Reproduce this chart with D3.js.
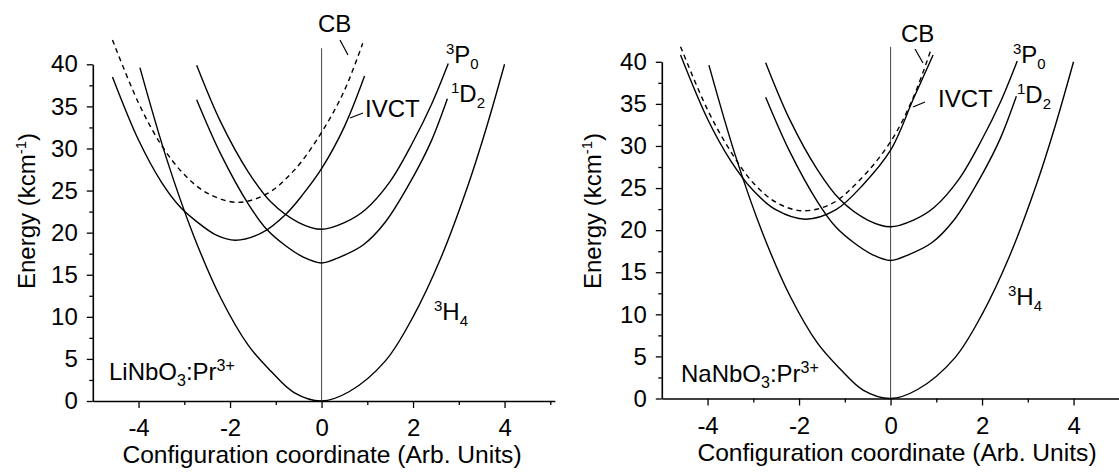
<!DOCTYPE html>
<html>
<head>
<meta charset="utf-8">
<script src="https://cdn.jsdelivr.net/npm/d3@7"></script>
<style>
  body { margin: 0; background: #fff; }
  text { font-family: "Liberation Sans", Arial, sans-serif; }
</style>
</head>
<body>
<div id="chart"></div>
<script>
// tick values
let xTicks = [-4, -3, -2, -1, 0, 1, 2, 3, 4, 5]
let yTicks = [0, 2.5, 5, 7.5, 10, 12.5, 15, 17.5, 20, 22.5, 25, 27.5, 30, 32.5, 35, 37.5, 40]

// 3H4 ground state (same in both panels)
let h4X = [-3.97, -3.4, -2.8, -2.2, -1.6, -1.1, -0.6, 0, 0.6, 1.4, 2.0, 2.6, 3.2, 3.6, 4.0]
let h4Y = [39.6, 29.0, 19.7, 12.2, 6.6, 3.5, 1.0, 0, 1.1, 4.8, 10.0, 16.9, 25.6, 32.4, 40.0]

// 1D2
let d2X = [-2.73, -2.2, -1.6, -1.2, -0.8, -0.4, 0, 0.4, 0.9, 1.4, 2.0, 2.4, 2.75]
let d2Y = [35.8, 29.3, 23.4, 20.4, 18.5, 17.1, 16.4, 17.1, 18.5, 21.3, 26.6, 30.9, 35.9]

// 3P0
let p0X = [-2.73, -2.2, -1.6, -1.1, -0.5, 0, 0.5, 0.95, 1.5, 2.0, 2.4, 2.77]
let p0Y = [39.9, 33.1, 27.2, 23.6, 21.2, 20.4, 21.2, 22.7, 26.1, 30.8, 35.2, 40.1]

// LiNbO3 : IVCT and CB
let liIvctX = [-4.57, -4.0, -3.5, -3.1, -2.75, -2.3, -1.88, -1.3, -0.78, -0.4, 0, 0.5, 0.94]
let liIvctY = [38.5, 31.0, 26.0, 23.1, 21.4, 19.7, 19.1, 20.0, 22.2, 24.6, 27.6, 32.6, 38.6]
let liCbX = [-4.57, -4.0, -3.5, -3.0, -2.5, -1.85, -1.2, -0.6, 0, 0.5, 0.9]
let liCbY = [42.9, 35.4, 30.4, 26.9, 24.7, 23.6, 24.6, 27.4, 31.9, 36.9, 42.5]

// NaNbO3 : IVCT and CB
let naIvctX = [-4.59, -4.0, -3.5, -3.0, -2.5, -1.86, -1.2, -0.6, 0, 0.5, 0.93]
let naIvctY = [40.8, 33.2, 28.3, 24.7, 22.4, 21.3, 22.4, 25.4, 29.5, 35.6, 40.8]
let naCbX = [-4.59, -4.0, -3.5, -3.0, -2.5, -1.94, -1.3, -0.7, 0, 0.5, 0.88]
let naCbY = [41.8, 34.3, 29.4, 25.6, 23.3, 22.3, 23.1, 25.8, 30.5, 35.8, 41.4]

let width = 1119, height = 473

let svg = d3.select('#chart')
  .append('svg')
  .attr('width', width)
  .attr('height', height)

function zip(xs, ys) {
  return xs.map((v, i) => [v, ys[i]])
}

function term(g, x, y, sup, main, sub) {
  let t = g.append('text').attr('x', x).attr('y', y).attr('font-size', 24)
  t.append('tspan').attr('font-size', 15).attr('dy', -9).text(sup)
  t.append('tspan').attr('dy', 9).text(main)
  t.append('tspan').attr('font-size', 15).attr('dy', 6).text(sub)
}

function drawPanel(p) {
  let g = svg.append('g')
  let x = d3.scaleLinear().domain([-5, 5.1]).range([p.x0, p.x0 + 10.1 * 45.75])
  let y = d3.scaleLinear().domain([0, 40]).range([p.y0, p.y0 - 336.7])

  let xAxis = g.append('g')
    .attr('transform', 'translate(0,' + p.y0 + ')')
    .call(d3.axisBottom(x)
      .tickValues(xTicks)
      .tickFormat(d => d % 2 === 0 ? String(d) : '')
      .tickSize(7).tickSizeOuter(0).tickPadding(11))
  xAxis.selectAll('.tick line').attr('y2', d => d % 2 === 0 ? 7 : 4)

  let yAxis = g.append('g')
    .attr('transform', 'translate(' + p.x0 + ',0)')
    .call(d3.axisLeft(y)
      .tickValues(yTicks)
      .tickFormat(d => d % 5 === 0 ? String(d) : '')
      .tickSize(6).tickSizeOuter(0).tickPadding(9))
  yAxis.selectAll('.tick line').attr('x2', d => d % 5 === 0 ? -6 : -3.5)

  g.selectAll('.domain').attr('stroke', '#000').attr('stroke-width', 1.6)
  g.selectAll('.tick line').attr('stroke', '#000').attr('stroke-width', 1.3)
  g.selectAll('.tick text')
    .attr('font-family', '"Liberation Sans", Arial, sans-serif')
    .attr('font-size', 24).attr('fill', '#000')

  // vertical line at Q = 0
  g.append('line')
    .attr('x1', x(0)).attr('x2', x(0))
    .attr('y1', y(0)).attr('y2', y(p.vTop))
    .attr('stroke', '#555').attr('stroke-width', 1.1)

  let line = d3.line()
    .x(d => x(d[0]))
    .y(d => y(d[1]))
    .curve(d3.curveCatmullRom.alpha(0.5))

  let curves = [
    { pts: zip(h4X, h4Y) },
    { pts: zip(d2X, d2Y) },
    { pts: zip(p0X, p0Y) },
    { pts: zip(p.ivctX, p.ivctY) },
    { pts: zip(p.cbX, p.cbY), dash: '5,4' }
  ]

  g.selectAll('path.curve')
    .data(curves)
    .enter()
    .append('path')
    .attr('class', 'curve')
    .attr('d', d => line(d.pts))
    .attr('fill', 'none')
    .attr('stroke', '#000')
    .attr('stroke-width', 1.4)
    .attr('stroke-dasharray', d => d.dash || null)

  // labels
  g.append('text').attr('x', p.cb[0]).attr('y', p.cb[1]).attr('font-size', 24).text('CB')
  g.append('line')
    .attr('x1', p.cbLead[0]).attr('y1', p.cbLead[1])
    .attr('x2', p.cbLead[2]).attr('y2', p.cbLead[3])
    .attr('stroke', '#000').attr('stroke-width', 1.2)
  g.append('text').attr('x', p.ivct[0]).attr('y', p.ivct[1]).attr('font-size', 24).text('IVCT')
  g.append('line')
    .attr('x1', p.ivctLead[0]).attr('y1', p.ivctLead[1])
    .attr('x2', p.ivctLead[2]).attr('y2', p.ivctLead[3])
    .attr('stroke', '#000').attr('stroke-width', 1.2)

  term(g, p.p0[0], p.p0[1], '3', 'P', '0')
  term(g, p.d2[0], p.d2[1], '1', 'D', '2')
  term(g, p.h4[0], p.h4[1], '3', 'H', '4')

  let s = g.append('text').attr('x', p.sample[0]).attr('y', p.sample[1]).attr('font-size', 24)
  s.append('tspan').text(p.host)
  s.append('tspan').attr('font-size', 16).attr('dy', 6).text('3')
  s.append('tspan').attr('dy', -6).text(':Pr')
  s.append('tspan').attr('font-size', 16).attr('dy', -9).text('3+')

  g.append('text')
    .attr('x', p.xLabel[0]).attr('y', p.xLabel[1])
    .attr('text-anchor', 'middle').attr('font-size', 24.6)
    .text('Configuration coordinate (Arb. Units)')

  let yl = g.append('text')
    .attr('transform', 'translate(' + p.yLabel[0] + ',' + p.yLabel[1] + ') rotate(-90)')
    .attr('text-anchor', 'middle').attr('font-size', 24)
  yl.append('tspan').text('Energy (kcm')
  yl.append('tspan').attr('font-size', 15).attr('dy', -9).text('-1')
  yl.append('tspan').attr('dy', 9).text(')')
}

drawPanel({
  x0: 92.8, y0: 401, vTop: 41.9, host: 'LiNbO',
  ivctX: liIvctX, ivctY: liIvctY, cbX: liCbX, cbY: liCbY,
  cb: [318, 32], cbLead: [340, 40, 348, 55],
  ivct: [365, 117], ivctLead: [350, 118, 363, 113],
  p0: [446, 63], d2: [451, 102], h4: [434, 320],
  sample: [109, 380], xLabel: [322, 463], yLabel: [35, 211]
})

drawPanel({
  x0: 661.8, y0: 398.5, vTop: 41.8, host: 'NaNbO',
  ivctX: naIvctX, ivctY: naIvctY, cbX: naCbX, cbY: naCbY,
  cb: [901, 42], cbLead: [915, 49, 923, 63],
  ivct: [938, 107], ivctLead: [913, 107, 925, 102],
  p0: [1013, 63], d2: [1017, 103], h4: [1008, 305],
  sample: [681, 382], xLabel: [897, 461], yLabel: [601, 211]
})
</script>
</body>
</html>
